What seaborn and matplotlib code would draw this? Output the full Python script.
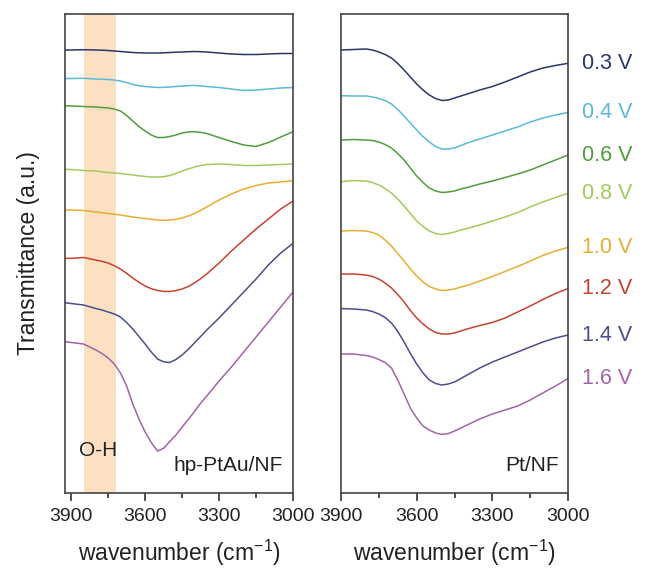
import numpy as np
import pandas as pd
import matplotlib.pyplot as plt
import matplotlib.transforms as mtransforms
from matplotlib.ticker import MultipleLocator
import seaborn as sns

# wavenumber grids (cm-1), denser where the bands are
wn_left = [3925, 3900, 3850, 3800, 3775, 3750, 3725, 3700, 3675, 3650, 3625,
           3600, 3575, 3550, 3525, 3500, 3475, 3450, 3425, 3400, 3375, 3350,
           3300, 3250, 3200, 3150, 3100, 3050, 3000]
wn_right = [3900, 3850, 3800, 3775, 3750, 3725, 3700, 3675, 3650, 3625, 3600,
            3575, 3550, 3525, 3500, 3475, 3450, 3425, 3400, 3350, 3300, 3250,
            3200, 3150, 3100, 3050, 3000]

potentials = ["0.3 V", "0.4 V", "0.6 V", "0.8 V", "1.0 V", "1.2 V", "1.4 V", "1.6 V"]
colors = ["#2a3868", "#5bbad8", "#4f9e3e", "#a3cb5c", "#e8ad34", "#c8432f", "#4b4f8e", "#a463a8"]

# spectra (offset depth, a.u., larger = lower on the plot)
# hp-PtAu/NF
L03 = [50, 50, 49.7, 50, 50.2, 50.5, 51, 51.5, 52, 52.5, 52.8, 53, 53, 53, 52.8,
       52.5, 52.2, 52, 51.7, 51.5, 51.7, 52, 53, 54, 54.5, 54.5, 54, 53.5, 53.5]
L04 = [78.5, 78.5, 78.3, 79, 79.2, 79.5, 80, 81, 82.5, 84.5, 85.7, 86.5, 87, 87.5, 87.3,
       87, 86.5, 86, 85.6, 85.5, 85.8, 86.5, 87.5, 89, 90.5, 90, 89, 88, 87.5]
L06 = [105.7, 106, 106.5, 107, 107.5, 108, 109, 111, 115.5, 121, 126.5, 131, 135, 137.5, 137.5,
       136.5, 135, 133, 132, 131.7, 132.3, 133.5, 137.5, 141.5, 145, 146.5, 142.5, 137, 131.7]
L08 = [169.3, 169.5, 170.5, 171, 171.8, 172.5, 173, 173.5, 174.2, 175, 175.8, 176.5, 177, 177, 176.7,
       175.5, 173.5, 171, 169, 167, 165.5, 164.5, 164, 164.5, 165.5, 165.5, 165, 164.5, 164]
L10 = [210, 210, 210.5, 212, 212.7, 213.5, 214.2, 215, 216, 217, 217.8, 218.5, 219.4, 220, 220.3,
       220, 219.3, 218, 216, 213.5, 210.5, 207, 200, 194, 189, 185.5, 183, 182, 180.7]
L12 = [258.3, 258.3, 257.5, 260, 261.3, 263, 265.7, 269, 273.3, 278, 282.3, 286, 288.7, 290.5, 291.4,
       291.5, 290.6, 289, 286.5, 283, 278.7, 274, 263, 251, 240, 229, 219, 209, 201]
L14 = [302.7, 303.5, 305, 308.5, 310, 312, 314, 317, 322.5, 329, 336.5, 344, 352, 359, 361.8,
       362.5, 359.5, 355, 349.3, 343, 336.5, 330, 318, 305, 292, 279, 265, 253, 243.3]
L16 = [341.7, 342.5, 344, 350, 353.5, 358, 364, 373, 386, 404, 419, 432, 442.5, 451, 448.3,
       441.5, 435, 427, 419.5, 411.5, 403.3, 396, 381, 367, 352, 337, 322, 307, 292]

# Pt/NF
R03 = [50, 49.5, 49, 50, 52, 54.5, 58, 63.5, 70, 77, 84, 90, 95, 98.5,
       100.5, 100, 98, 96, 94, 90, 86.5, 82, 77, 72, 68, 65.5, 63.3]
R04 = [95.7, 96, 96, 97, 98.5, 100.5, 104, 109.5, 116, 123, 130, 136.5, 142, 146.5,
       149, 149, 148, 145.5, 143, 139, 135, 131, 127, 122, 118, 115, 112.5]
R06 = [140, 139.5, 140, 140.5, 142, 144.5, 148, 153.5, 160, 168, 176, 182.5, 188, 191,
       192.5, 192, 191, 189, 187.5, 184, 181, 177.5, 174, 170, 165, 160, 155]
R08 = [181.7, 180.5, 181, 182.5, 185, 188.5, 193, 199, 206, 213.5, 221, 226.5, 231, 233.5,
       234.5, 233.5, 232, 230, 228.5, 225, 221, 217, 212.5, 207, 202, 197.5, 193.3]
R10 = [231, 230.5, 231, 232.5, 235, 240, 246, 253.5, 261, 269, 276, 282, 286.5, 289,
       290.5, 290, 289, 287, 285.5, 281, 276.5, 271.5, 266.5, 261, 255.5, 251, 247.3]
R12 = [274, 274, 275, 276.5, 279, 283, 288, 294.5, 302, 310.5, 318, 324, 329, 332.5,
       334, 334, 333, 331, 329, 325.5, 322.5, 318, 312, 306, 299.5, 293.5, 288.5]
R14 = [308.5, 309, 310, 311.5, 314, 317.5, 323, 331.5, 342, 353.5, 364, 373, 380, 383.5,
       385, 384, 382, 378.5, 375, 368, 362, 357, 352, 347, 342, 338, 335]
R16 = [354, 354, 355.5, 357, 359.5, 362.5, 368, 380, 394, 408, 418, 426, 430, 433,
       434.5, 433.5, 431, 428, 425, 419, 414, 410, 406, 400, 393, 386, 378.5]

left_series = [L03, L04, L06, L08, L10, L12, L14, L16]
right_series = [R03, R04, R06, R08, R10, R12, R14, R16]


def to_frame(wn, series):
    rows = []
    for pot, vals in zip(potentials, series):
        for w, v in zip(wn, vals):
            rows.append({"wavenumber": w, "trans": 5.0 - v / 100.0, "potential": pot})
    return pd.DataFrame(rows)


df_left = to_frame(wn_left, left_series)
df_right = to_frame(wn_right, right_series)

sns.set_style("ticks")
plt.rcParams["font.family"] = ["Liberation Sans", "DejaVu Sans"]
plt.rcParams["mathtext.fontset"] = "custom"
plt.rcParams["mathtext.rm"] = "Liberation Sans"
plt.rcParams["mathtext.it"] = "Liberation Sans:italic"

fig = plt.figure(figsize=(6.45, 5.74), dpi=100)
ax1 = fig.add_axes([0.1008, 0.1411, 0.3535, 0.8345])
ax2 = fig.add_axes([0.5287, 0.1411, 0.352, 0.8345])

for ax, df in [(ax1, df_left), (ax2, df_right)]:
    sns.lineplot(data=df, x="wavenumber", y="trans", hue="potential",
                 hue_order=potentials, palette=colors, estimator=None,
                 sort=False, legend=False, linewidth=1.1, ax=ax)

# O-H band
ax1.axvspan(3850, 3720, color="#fde0c2", zorder=0, lw=0)

ax1.set_xlim(3925, 3000)
ax2.set_xlim(3900, 3000)
for ax in (ax1, ax2):
    ax.set_ylim(0.07, 4.86)
    ax.set_yticks([])
    ax.xaxis.set_major_locator(MultipleLocator(300))
    ax.xaxis.set_minor_locator(MultipleLocator(150))
    ax.tick_params(axis="x", which="major", length=6, width=1.2, labelsize=14,
                   colors="#333333", labelcolor="#222222", pad=5)
    ax.tick_params(axis="x", which="minor", length=3.5, width=1.2, colors="#333333")
    for sp in ax.spines.values():
        sp.set_visible(True)
        sp.set_linewidth(1.2)
        sp.set_color("#444444")
    ax.set_xlabel("wavenumber (cm$^{-1}$)", fontsize=16.5, labelpad=9, color="#222222")
    ax.set_ylabel("")

ax1.set_ylabel("Transmittance (a.u.)", fontsize=16.5, labelpad=18, color="#222222")

ax1.text(0.147, 0.088, "O-H", transform=ax1.transAxes, ha="center", va="center",
         fontsize=15, color="#222222")
ax1.text(0.956, 0.058, "hp-PtAu/NF", transform=ax1.transAxes, ha="right", va="center",
         fontsize=15, color="#222222")
ax2.text(0.96, 0.058, "Pt/NF", transform=ax2.transAxes, ha="right", va="center",
         fontsize=15, color="#222222")

# potential labels next to the right ends of the Pt/NF curves
trans = mtransforms.blended_transform_factory(ax2.transAxes, ax2.transData)
for pot, col, vals in zip(potentials, colors, right_series):
    ax2.text(1.062, 5.0 - vals[-1] / 100.0, pot, transform=trans, ha="left",
             va="center", fontsize=15.5, color=col, clip_on=False)

plt.savefig("out.png", dpi=100)
